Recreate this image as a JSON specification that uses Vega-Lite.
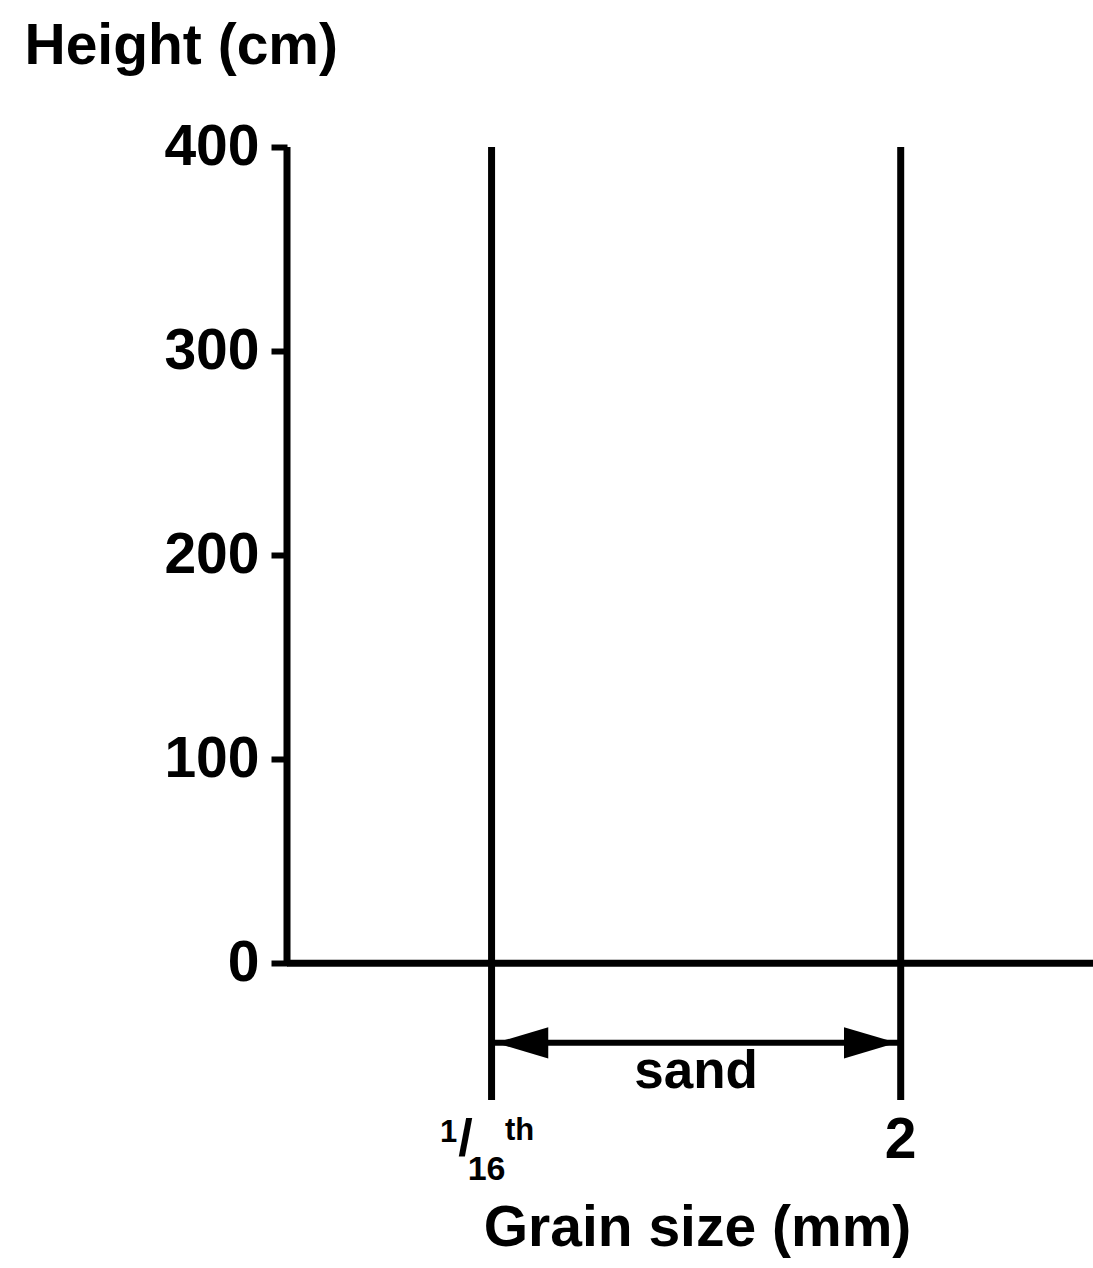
{
  "$schema": "https://vega.github.io/schema/vega-lite/v6.json",
  "width": 806,
  "height": 953,
  "autosize": {"type": "none"},
  "padding": {"left": 287, "top": 147, "right": 0, "bottom": 168},
  "background": "white",
  "config": {"view": {"stroke": null}, "font": "Liberation Sans"},
  "data": {"values": [{"annotation": "frame"}]},
  "datasets": {
    "bounds": [
      {"pos": 1, "size_label": "1/16th"},
      {"pos": 3, "size_label": "2"}
    ]
  },
  "layer": [
    {
      "data": {"name": "bounds"},
      "mark": {"type": "rule", "color": "black", "strokeWidth": 7},
      "encoding": {
        "x": {
          "field": "pos",
          "type": "quantitative",
          "scale": {"domain": [0, 3.94], "nice": false, "zero": false},
          "axis": {
            "domain": false, "ticks": false, "labels": false, "grid": false,
            "title": "Grain size (mm)",
            "titleFont": "Liberation Sans", "titleFontSize": 57, "titleFontWeight": "bold", "titleColor": "black",
            "titleX": 410, "titleY": 145, "titleAlign": "center", "titleBaseline": "alphabetic"
          }
        },
        "y": {
          "datum": 400,
          "type": "quantitative",
          "scale": {"domain": [-67, 400], "nice": false, "zero": false},
          "axis": {
            "values": [0, 100, 200, 300, 400],
            "domain": false, "grid": false,
            "tickSize": 16, "tickWidth": 6, "tickColor": "black",
            "labelFont": "Liberation Sans", "labelFontSize": 57, "labelFontWeight": "bold", "labelColor": "black",
            "labelPadding": 12,
            "title": "Height (cm)",
            "titleFont": "Liberation Sans", "titleFontSize": 57, "titleFontWeight": "bold", "titleColor": "black",
            "titleAngle": 0, "titleX": -263, "titleY": -84, "titleAlign": "left", "titleBaseline": "alphabetic"
          }
        },
        "y2": {"datum": -67}
      }
    },
    {
      "mark": {"type": "rule", "color": "black", "strokeWidth": 7},
      "encoding": {
        "x": {"datum": 0, "type": "quantitative"},
        "y": {"datum": 0, "type": "quantitative"},
        "y2": {"datum": 400}
      }
    },
    {
      "mark": {"type": "rule", "color": "black", "strokeWidth": 7},
      "encoding": {
        "y": {"datum": 0, "type": "quantitative"}
      }
    },
    {
      "mark": {"type": "rule", "color": "black", "strokeWidth": 6},
      "encoding": {
        "x": {"datum": 1, "type": "quantitative"},
        "x2": {"datum": 3},
        "y": {"datum": -39, "type": "quantitative"}
      }
    },
    {
      "mark": {"type": "point", "shape": "M 0.15 0 L 2.1 -0.58 L 2.1 0.58 Z", "filled": true, "color": "black", "opacity": 1, "size": 2916, "strokeWidth": 0},
      "encoding": {
        "x": {"datum": 1, "type": "quantitative"},
        "y": {"datum": -39, "type": "quantitative"}
      }
    },
    {
      "mark": {"type": "point", "shape": "M -0.15 0 L -2.1 -0.58 L -2.1 0.58 Z", "filled": true, "color": "black", "opacity": 1, "size": 2916, "strokeWidth": 0},
      "encoding": {
        "x": {"datum": 3, "type": "quantitative"},
        "y": {"datum": -39, "type": "quantitative"}
      }
    },
    {
      "mark": {"type": "text", "text": "sand", "font": "Liberation Sans", "fontWeight": "bold", "fontSize": 53, "color": "black", "align": "center", "baseline": "alphabetic", "dy": -12},
      "encoding": {
        "x": {"datum": 2, "type": "quantitative"},
        "y": {"datum": -67, "type": "quantitative"}
      }
    },
    {
      "data": {"name": "bounds"},
      "transform": [{"filter": "datum.pos == 3"}],
      "mark": {"type": "text", "font": "Liberation Sans", "fontWeight": "bold", "fontSize": 57, "color": "black", "align": "center", "baseline": "alphabetic", "dy": 58},
      "encoding": {
        "x": {"field": "pos", "type": "quantitative"},
        "y": {"datum": -67, "type": "quantitative"},
        "text": {"field": "size_label"}
      }
    },
    {
      "mark": {"type": "text", "text": "1", "font": "Liberation Sans", "fontWeight": "bold", "fontSize": 31, "color": "black", "align": "center", "baseline": "alphabetic", "dx": -43, "dy": 42},
      "encoding": {
        "x": {"datum": 1, "type": "quantitative"},
        "y": {"datum": -67, "type": "quantitative"}
      }
    },
    {
      "mark": {"type": "text", "text": "/", "font": "Liberation Sans", "fontWeight": "bold", "fontSize": 52, "color": "black", "align": "center", "baseline": "alphabetic", "dx": -26, "dy": 56},
      "encoding": {
        "x": {"datum": 1, "type": "quantitative"},
        "y": {"datum": -67, "type": "quantitative"}
      }
    },
    {
      "mark": {"type": "text", "text": "16", "font": "Liberation Sans", "fontWeight": "bold", "fontSize": 34, "color": "black", "align": "center", "baseline": "alphabetic", "dx": -5, "dy": 80},
      "encoding": {
        "x": {"datum": 1, "type": "quantitative"},
        "y": {"datum": -67, "type": "quantitative"}
      }
    },
    {
      "mark": {"type": "text", "text": "th", "font": "Liberation Sans", "fontWeight": "bold", "fontSize": 31, "color": "black", "align": "center", "baseline": "alphabetic", "dx": 28, "dy": 40},
      "encoding": {
        "x": {"datum": 1, "type": "quantitative"},
        "y": {"datum": -67, "type": "quantitative"}
      }
    }
  ]
}
